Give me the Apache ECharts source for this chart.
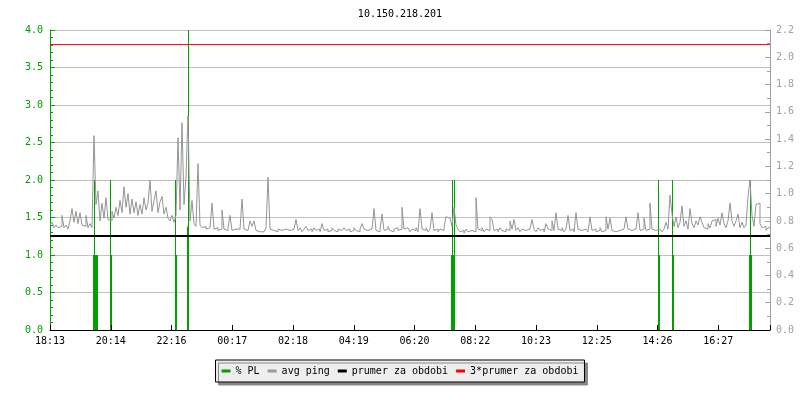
<!DOCTYPE html>
<html><head><meta charset="utf-8">
<script src="https://cdn.jsdelivr.net/npm/echarts@6/dist/echarts.min.js"></script>
<style>html,body{margin:0;padding:0;background:#fff}#c{width:800px;height:400px}</style>
</head><body><div id="c"></div>
<script>
const chartTitle = '10.150.218.201';
const xTickLabels = ['18:13','20:14','22:16','00:17','02:18','04:19','06:20','08:22','10:23','12:25','14:26','16:27'];
const xTickStep = 121.5;      // minutes between time labels
const totalMinutes = 1440;    // one day shown
const pingStep = 4;           // minutes per ping sample
const plStep = 2;             // minutes per % PL sample

// avg ping (right axis), one value per 4 minutes from 18:13
const pingValues = [
0.77,0.79,0.75,0.77,0.75,0.76,0.84,0.75,0.77,0.74,
0.80,0.89,0.79,0.87,0.78,0.86,0.77,0.76,0.84,0.75,
0.78,0.75,1.425,0.92,1.02,0.80,0.93,0.82,0.97,0.81,
0.80,0.87,0.82,0.90,0.84,0.95,0.86,1.05,0.90,1.00,
0.85,0.96,0.86,0.94,0.84,0.92,0.85,0.97,0.88,0.93,
1.10,0.87,0.95,1.02,0.86,0.94,0.98,0.85,0.90,0.82,
0.80,0.84,0.79,0.84,1.41,0.88,1.52,0.92,1.13,1.57,
0.80,0.95,0.78,0.76,1.22,0.77,0.75,0.76,0.74,0.75,
0.74,0.93,0.74,0.75,0.73,0.74,0.88,0.74,0.73,0.75,
0.84,0.73,0.74,0.73,0.74,0.73,0.96,0.74,0.73,0.74,
0.80,0.76,0.80,0.73,0.72,0.73,0.72,0.73,0.75,1.12,
0.74,0.73,0.73,0.72,0.74,0.73,0.72,0.74,0.73,0.73,
0.72,0.74,0.73,0.81,0.73,0.75,0.72,0.74,0.76,0.73,
0.74,0.72,0.75,0.73,0.74,0.72,0.78,0.73,0.74,0.72,
0.73,0.75,0.73,0.72,0.74,0.73,0.72,0.75,0.73,0.74,
0.72,0.73,0.75,0.73,0.72,0.74,0.78,0.74,0.73,0.72,
0.74,0.73,0.89,0.73,0.72,0.74,0.85,0.73,0.74,0.76,
0.73,0.72,0.74,0.75,0.73,0.74,0.90,0.74,0.75,0.74,
0.72,0.74,0.73,0.75,0.72,0.89,0.74,0.73,0.75,0.72,
0.74,0.86,0.73,0.74,0.72,0.74,0.73,0.75,0.83,0.82,
0.81,0.76,0.90,0.77,0.74,0.72,0.73,0.71,0.74,0.72,
0.73,0.74,0.72,0.97,0.74,0.73,0.75,0.72,0.74,0.73,
0.83,0.81,0.73,0.74,0.72,0.75,0.73,0.72,0.74,0.73,
0.80,0.74,0.81,0.73,0.75,0.72,0.74,0.73,0.72,0.74,
0.73,0.81,0.74,0.72,0.75,0.73,0.74,0.72,0.78,0.74,
0.73,0.80,0.73,0.86,0.74,0.73,0.75,0.72,0.74,0.84,
0.73,0.74,0.72,0.86,0.74,0.73,0.72,0.74,0.73,0.72,
0.83,0.73,0.74,0.72,0.73,0.75,0.72,0.73,0.83,0.74,
0.82,0.73,0.72,0.71,0.73,0.72,0.74,0.73,0.83,0.74,
0.73,0.72,0.74,0.73,0.86,0.73,0.74,0.82,0.73,0.74,
0.93,0.74,0.73,0.72,0.74,0.73,0.72,0.74,0.79,0.74,
0.99,0.85,0.76,0.83,0.75,0.79,0.91,0.76,0.80,0.74,
0.89,0.78,0.75,0.80,0.77,0.83,0.79,0.75,0.74,0.78,
0.75,0.80,0.81,0.76,0.82,0.77,0.86,0.78,0.75,0.80,
0.93,0.80,0.76,0.80,0.85,0.75,0.79,0.75,0.77,0.98,
1.10,0.84,0.76,0.92,0.93,0.78,0.75,0.76,0.73,0.75
];

// % PL (left axis): non-zero samples only, start minute of each 2-minute sample
const plTimes  = [86, 88, 90, 92, 94, 120, 122, 250, 252, 274, 276, 802, 804, 806, 808, 1216, 1218, 1244, 1246, 1398, 1400, 1402];
const plValues = [1, 2, 1, 1, 1, 2, 1, 2, 1, 1.38, 4, 1, 2, 1, 2, 2, 1, 2, 1, 1, 2, 1];

const prumer = 0.69;
const prumer3 = 2.093;

const seriesNames = ['% PL', 'avg ping', 'prumer za obdobi', '3*prumer za obdobi'];
const FONT = 'DejaVu Sans Mono';
const GREEN = '#00a000';
const GREY = '#a0a0a0';

// ping: explicit step outline (each value held for pingStep minutes)
const pingData = [];
pingValues.forEach((v, i) => {
  pingData.push([i * pingStep, v]);
  pingData.push([Math.min((i + 1) * pingStep, totalMinutes), v]);
});
const plData = plTimes.map((t, i) => [t, plValues[i]]);

const chart = echarts.init(document.getElementById('c'), null, {renderer: 'canvas'});
chart.setOption({
  animation: false,
  backgroundColor: '#ffffff',
  title: {
    text: chartTitle, left: 'center', top: 4,
    textStyle: {fontFamily: FONT, fontSize: 10, fontWeight: 'normal', color: '#000'}
  },
  grid: {left: 50, right: 30, top: 30, bottom: 70, containLabel: false},
  legend: {
    data: seriesNames, left: 'center', top: 360,
    icon: 'rect', itemWidth: 9, itemHeight: 3, itemGap: 8,
    padding: [6, 6], backgroundColor: '#eeeeee', borderColor: '#000', borderWidth: 1,
    shadowColor: '#888888', shadowOffsetX: 3, shadowOffsetY: 3, shadowBlur: 0.01,
    selectedMode: false,
    textStyle: {fontFamily: FONT, fontSize: 10, color: '#000'}
  },
  xAxis: {
    type: 'value', min: 0, max: totalMinutes, interval: xTickStep, z: 5,
    axisLine: {show: true, lineStyle: {color: '#000', width: 1}},
    axisTick: {show: true, inside: true, length: 5, lineStyle: {color: '#000'}},
    splitLine: {show: false},
    axisLabel: {
      fontFamily: FONT, fontSize: 10, color: '#000', margin: 6,
      formatter: function (v) {
        const k = Math.round(v / xTickStep);
        if (Math.abs(v - k * xTickStep) < 0.01 && k < xTickLabels.length) return xTickLabels[k];
        return '';
      }
    }
  },
  yAxis: [{
    type: 'value', min: 0, max: 4, interval: 0.5, position: 'left',
    axisLine: {show: true, lineStyle: {color: GREEN}},
    axisTick: {show: true, inside: true, length: 5, lineStyle: {color: GREEN}},
    minorTick: {show: true, splitNumber: 5, length: 3, lineStyle: {color: GREEN}},
    splitLine: {show: true, lineStyle: {color: '#c0c0c0', width: 1}},
    axisLabel: {fontFamily: FONT, fontSize: 10, color: GREEN, margin: 7, formatter: v => v.toFixed(1)}
  }, {
    type: 'value', min: 0, max: 2.2, interval: 0.2, position: 'right',
    axisLine: {show: true, lineStyle: {color: GREY}},
    axisTick: {show: true, inside: true, length: 5, lineStyle: {color: GREY}},
    minorTick: {show: true, splitNumber: 2, length: 3, lineStyle: {color: GREY}},
    splitLine: {show: false},
    axisLabel: {fontFamily: FONT, fontSize: 10, color: GREY, margin: 6, formatter: v => v.toFixed(1)}
  }],
  series: [{
    name: seriesNames[0], type: 'custom', yAxisIndex: 0, clip: true,
    data: plData, color: GREEN, itemStyle: {color: GREEN},
    encode: {x: 0, y: 1},
    renderItem: function (params, api) {
      const t = api.value(0), v = api.value(1);
      const p0 = api.coord([t, 0]);
      const p1 = api.coord([t + plStep, v]);
      return {
        type: 'rect',
        shape: {x: p0[0], y: p1[1], width: p1[0] - p0[0], height: p0[1] - p1[1]},
        style: {fill: GREEN}
      };
    }
  }, {
    name: seriesNames[1], type: 'line', yAxisIndex: 1,
    data: pingData, showSymbol: false, symbol: 'none', color: '#999999',
    lineStyle: {width: 1, color: '#959595'}
  }, {
    name: seriesNames[2], type: 'line', yAxisIndex: 1,
    data: [[0, prumer], [totalMinutes, prumer]], showSymbol: false, symbol: 'none', color: '#000000',
    lineStyle: {width: 2, color: '#000000'}
  }, {
    name: seriesNames[3], type: 'line', yAxisIndex: 1,
    data: [[0, prumer3], [totalMinutes, prumer3]], showSymbol: false, symbol: 'none', color: '#ff0000',
    lineStyle: {width: 1, color: '#ff0000'}
  }]
});
</script>
</body></html>
